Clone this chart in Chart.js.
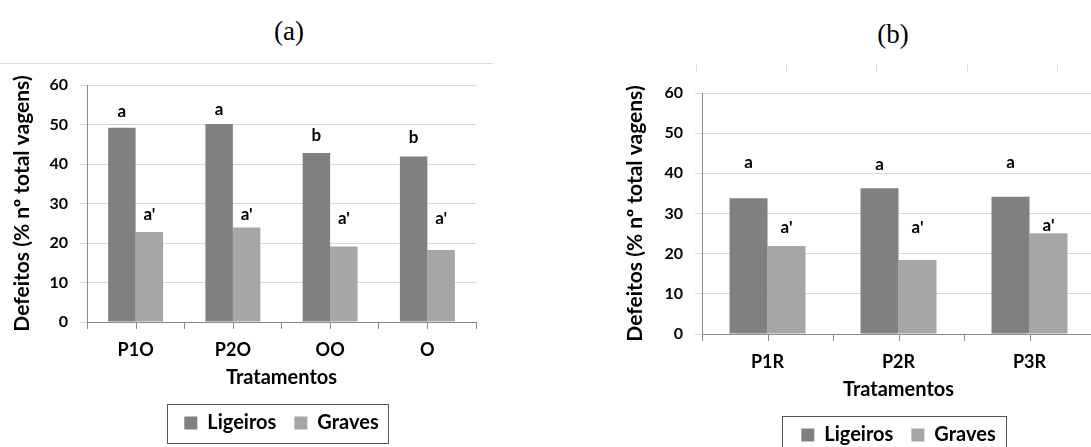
<!DOCTYPE html>
<html lang="pt">
<head>
<meta charset="utf-8">
<title>Defeitos por tratamento</title>
<script src="https://cdn.jsdelivr.net/npm/chart.js@4.4.0/dist/chart.umd.min.js"></script>
<style>
  html, body { margin: 0; padding: 0; background: #fff; width: 1091px; height: 447px; overflow: hidden; position: relative; }
  .painel { position: absolute; }
  .titulo { position: absolute; font-family: "Liberation Serif", "DejaVu Serif", serif; font-size: 27px; color: #000; transform: translate(-50%, -50%); }
  .traco { position: absolute; background: #dcdcdc; }
</style>
</head>
<body>
<div class="titulo" style="left:289px; top:31px;">(a)</div>
<div class="titulo" style="left:893px; top:34px;">(b)</div>

<!-- restos de bordas da figura original -->
<div class="traco" style="left:0; top:63px; width:493px; height:1px;"></div>
<div class="traco" style="left:696px; top:64px; width:1px; height:8px;"></div>
<div class="traco" style="left:786px; top:64px; width:1px; height:8px;"></div>
<div class="traco" style="left:876px; top:64px; width:1px; height:8px;"></div>
<div class="traco" style="left:967px; top:64px; width:1px; height:8px;"></div>
<div class="traco" style="left:1057px; top:64px; width:1px; height:8px;"></div>

<div class="painel" style="left:0; top:60px; width:500px; height:387px;"><canvas id="graficoA"></canvas></div>
<div class="painel" style="left:600px; top:40px; width:500px; height:430px;"><canvas id="graficoB"></canvas></div>

<script>
// Dados
const tratamentosA = ['P1O', 'P2O', 'OO', 'O'];
const ligeirosA = [49.2, 50.1, 42.8, 41.9];
const gravesA = [22.8, 23.9, 19.1, 18.2];
const letrasLigeirosA = ['a', 'a', 'b', 'b'];
const letrasGravesA = ["a'", "a'", "a'", "a'"];
// altura (em % no eixo y) onde cada letra aparece
const alturaLetrasLigA = [53.2, 53.7, 47.1, 46.6];
const alturaLetrasGravA = [27.1, 27.1, 26.3, 26.1];

const tratamentosB = ['P1R', 'P2R', 'P3R'];
const ligeirosB = [33.8, 36.3, 34.2];
const gravesB = [21.9, 18.4, 25.1];
const letrasLigeirosB = ['a', 'a', 'a'];
const letrasGravesB = ["a'", "a'", "a'"];
const alturaLetrasLigB = [42.6, 42.3, 42.8];
const alturaLetrasGravB = [26.6, 26.6, 27.1];

const ticksY = [0, 10, 20, 30, 40, 50, 60];

const corLigeiros = '#808080', corGraves = '#a6a6a6';
const corGrade = '#d9d9d9', corEixo = '#8c8c8c';

Chart.defaults.font.family = 'Lato, "Liberation Sans", sans-serif';
Chart.defaults.color = '#000';

// letras de significancia acima das barras
const pluginLetras = {
    id: 'letras',
    afterDatasetsDraw(chart) {
        const { ctx } = chart;
        const y = chart.scales.y;
        ctx.save();
        ctx.font = 'bold 17px Lato, "Liberation Sans", sans-serif';
        ctx.fillStyle = '#000';
        ctx.textAlign = 'center';
        ctx.textBaseline = 'middle';
        chart.data.datasets.forEach((ds, di) => {
            chart.getDatasetMeta(di).data.forEach((barra, i) => {
                ctx.fillText(ds.letras[i], barra.x, y.getPixelForValue(ds.alturaLetras[i]));
            });
        });
        ctx.restore();
    }
};

// marcas no centro de cada categoria (alem das divisorias)
const pluginMarcasCentro = {
    id: 'marcasCentro',
    afterDraw(chart) {
        const x = chart.scales.x, ctx = chart.ctx;
        ctx.save();
        ctx.strokeStyle = corEixo;
        ctx.lineWidth = 1;
        x.ticks.forEach((t, i) => {
            const px = Math.round(x.getPixelForTick(i)) + 0.5;
            ctx.beginPath();
            ctx.moveTo(px, x.top);
            ctx.lineTo(px, x.top + 7);
            ctx.stroke();
        });
        ctx.restore();
    }
};

// moldura da legenda, estilo Excel
const pluginMoldura = {
    id: 'moldura',
    afterDraw(chart, args, opts) {
        const hb = chart.legend && chart.legend.legendHitBoxes;
        if (!hb || !hb.length) return;
        const ctx = chart.ctx;
        const primeiro = hb[0], ultimo = hb[hb.length - 1];
        const cy = primeiro.top + primeiro.height / 2;
        const x0 = Math.round(primeiro.left - opts.esq) + 0.5;
        const x1 = Math.round(ultimo.left + ultimo.width + opts.dir) + 0.5;
        const y0 = Math.round(cy - 19.5) + 0.5;
        ctx.save();
        ctx.strokeStyle = '#555';
        ctx.lineWidth = 1;
        ctx.strokeRect(x0, y0, x1 - x0, 39);
        ctx.restore();
    }
};

function criarGrafico(id, rotulos, lig, grav, letrasLig, letrasGrav, altLig, altGrav, cfg) {
    return new Chart(document.getElementById(id), {
        type: 'bar',
        data: {
            labels: rotulos,
            datasets: [
                { label: 'Ligeiros', data: lig, backgroundColor: corLigeiros, borderWidth: 0,
                  letras: letrasLig, alturaLetras: altLig },
                { label: 'Graves', data: grav, backgroundColor: corGraves, borderWidth: 0,
                  letras: letrasGrav, alturaLetras: altGrav }
            ]
        },
        options: {
            responsive: true,
            maintainAspectRatio: false,
            animation: false,
            datasets: { bar: { categoryPercentage: cfg.catPct, barPercentage: 1 } },
            layout: { padding: { top: cfg.topo, right: cfg.direita, bottom: cfg.base, left: 0 } },
            plugins: {
                tooltip: { enabled: false },
                legend: {
                    position: 'bottom',
                    fullSize: false,
                    labels: {
                        boxWidth: 13, boxHeight: 13, padding: 18,
                        color: '#000',
                        font: { size: 20, weight: 'bold' }
                    }
                },
                moldura: { esq: cfg.moldEsq, dir: cfg.moldDir }
            },
            scales: {
                x: {
                    afterFit: (s) => { s.height = 73; },
                    grid: { display: true, drawOnChartArea: false, tickLength: 7, color: corEixo },
                    border: { color: corEixo },
                    ticks: { font: { size: 18, weight: 'bold' }, color: '#000', padding: 10 },
                    title: { display: true, text: 'Tratamentos', color: '#000',
                             font: { size: 20, weight: 'bold' }, padding: { top: 0, bottom: 5.6 } }
                },
                y: {
                    min: 0, max: 60,
                    afterFit: (s) => { s.width = cfg.largY; },
                    afterBuildTicks: (s) => { s.ticks = ticksY.map(v => ({ value: v })); },
                    grid: { color: corGrade, tickLength: 7 },
                    border: { color: corEixo },
                    ticks: { font: { size: 16, weight: 'bold' }, color: '#000', padding: 12 },
                    title: { display: true, text: 'Defeitos (% nº total vagens)', color: '#000',
                             font: { size: 21, weight: 'bold' }, padding: { top: cfg.tituloY, bottom: 0 } }
                }
            }
        },
        plugins: [pluginLetras, pluginMarcasCentro, pluginMoldura]
    });
}

criarGrafico('graficoA', tratamentosA, ligeirosA, gravesA, letrasLigeirosA, letrasGravesA,
    alturaLetrasLigA, alturaLetrasGravA,
    { catPct: 0.565, topo: 25, direita: 24, base: 4, largY: 87, tituloY: 9.4, moldEsq: 17, moldDir: 9 });

criarGrafico('graficoB', tratamentosB, ligeirosB, gravesB, letrasLigeirosB, letrasGravesB,
    alturaLetrasLigB, alturaLetrasGravB,
    { catPct: 0.58, topo: 53, direita: 5, base: 15, largY: 102, tituloY: 22.4, moldEsq: 19, moldDir: 10 });
</script>
</body>
</html>
